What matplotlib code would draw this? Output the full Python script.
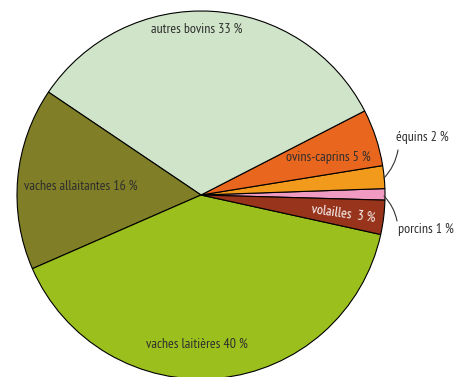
import matplotlib
matplotlib.use('Agg')
import matplotlib.pyplot as plt

# Data
categories = ['porcins', 'équins', 'ovins-caprins', 'autres bovins',
              'vaches allaitantes', 'vaches laitières', 'volailles']
shares = [1, 2, 5, 33, 16, 40, 3]
colors = ['#f19ac2', '#f29a1c', '#e8661e', '#cfe4c8',
          '#807e26', '#9bc01d', '#97341b']

plt.rcParams['font.family'] = ['PT Sans Narrow', 'DejaVu Sans']

fig = plt.figure(figsize=(4.54, 3.77), dpi=100)
ax = fig.add_axes([0, 0, 1, 1])

cx, cy, r = 201, 182, 184
ax.pie(shares, colors=colors, startangle=-1.6, counterclock=True,
       center=(cx, cy), radius=r, frame=True,
       wedgeprops=dict(edgecolor='black', linewidth=0.8))
ax.set_xlim(0, 454)
ax.set_ylim(0, 377)
ax.axis('off')

txt = dict(fontsize=10, color='#2e2e2e', va='center')
ax.text(197, 348, f'{categories[3]} {shares[3]} %', ha='center', **txt)
ax.text(371, 220, f'{categories[2]} {shares[2]} %', ha='right', **txt)
ax.text(24, 191, f'{categories[4]} {shares[4]} %', ha='left', **txt)
ax.text(197, 33, f'{categories[5]} {shares[5]} %', ha='center', **txt)
ax.text(343, 163, f'{categories[6]}  {shares[6]} %', ha='center', va='center',
        fontsize=10, color='white', style='italic', rotation=-8)
ax.text(396, 239, f'{categories[1]} {shares[1]} %', ha='left', **txt)
ax.text(398, 148, f'{categories[0]} {shares[0]} %', ha='left', **txt)

# leader lines
ax.annotate('', xy=(384, 199), xytext=(398, 227),
            arrowprops=dict(arrowstyle='-', lw=0.8, color='#333333',
                            shrinkA=0, shrinkB=0,
                            connectionstyle='arc3,rad=-0.15'))
ax.annotate('', xy=(384, 181), xytext=(397, 156),
            arrowprops=dict(arrowstyle='-', lw=0.8, color='#333333',
                            shrinkA=0, shrinkB=0,
                            connectionstyle='arc3,rad=0.15'))

fig.savefig('out.png', dpi=100)
